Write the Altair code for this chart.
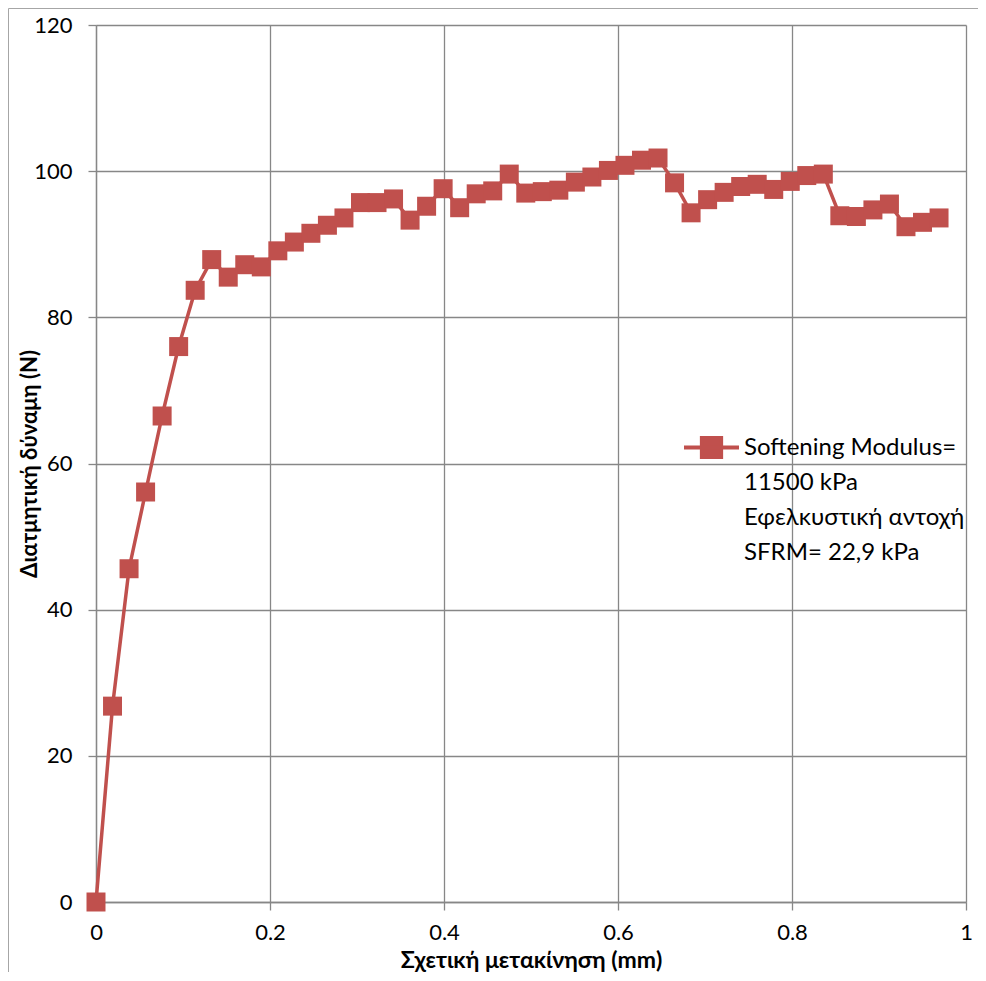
import altair as alt
import pandas as pd

# ---- data ----
x_mm = [0.000, 0.019, 0.038, 0.057, 0.076, 0.095, 0.114, 0.133, 0.152, 0.171,
        0.190, 0.209, 0.228, 0.247, 0.266, 0.285, 0.304, 0.323, 0.342, 0.361,
        0.380, 0.399, 0.418, 0.437, 0.456, 0.475, 0.494, 0.513, 0.532, 0.551,
        0.570, 0.589, 0.608, 0.627, 0.646, 0.665, 0.684, 0.703, 0.722, 0.741,
        0.760, 0.779, 0.798, 0.817, 0.836, 0.855, 0.874, 0.893, 0.912, 0.931,
        0.950, 0.969]
force_n = [0.0, 26.8, 45.6, 56.1, 66.5, 76.0, 83.7, 87.9, 85.5, 87.2,
           86.9, 89.1, 90.3, 91.5, 92.6, 93.6, 95.7, 95.7, 96.2, 93.3,
           95.2, 97.6, 95.0, 96.9, 97.3, 99.6, 97.0, 97.2, 97.4, 98.5,
           99.2, 100.1, 100.8, 101.5, 101.8, 98.4, 94.3, 96.1, 97.1, 97.9,
           98.2, 97.5, 98.6, 99.4, 99.6, 93.9, 93.8, 94.7, 95.5, 92.4,
           93.0, 93.6]
series_label = "Softening Modulus=|11500 kPa|Εφελκυστική αντοχή|SFRM= 22,9 kPa"
x_ticks = [0, 0.2, 0.4, 0.6, 0.8, 1]
y_ticks = [0, 20, 40, 60, 80, 100, 120]
x_title = "Σχετική μετακίνηση (mm)"
y_title = "Διατμητική δύναμη (N)"

df = pd.DataFrame({"x": x_mm, "y": force_n, "series": [series_label] * len(x_mm)})

RED = "#C0504D"
GRID = "#878787"
FONT = "Lato, Noto Sans, sans-serif"
W, H = 870, 877

x_enc = alt.X(
    "x:Q",
    scale=alt.Scale(domain=[0, 1], nice=False, zero=False),
    axis=alt.Axis(values=x_ticks, format="~g", title=x_title,
                  titleX=W / 2, titleY=58, titleBaseline="middle",
                  titleFontSize=23, labelFlush=False, labelPadding=12),
)
y_enc = alt.Y(
    "y:Q",
    scale=alt.Scale(domain=[0, 120], nice=False),
    axis=alt.Axis(values=y_ticks, title=y_title,
                  titleX=-67, titleY=H / 2, titleBaseline="middle",
                  titleAngle=270, titleFontSize=22,
                  labelFlush=False, labelPadding=16),
)

base = alt.Chart(df)

line = base.mark_line(color=RED, strokeWidth=3.5).encode(x=x_enc, y=y_enc)

points = base.mark_point(shape="square", size=361, filled=True, opacity=1).encode(
    x=x_enc,
    y=y_enc,
    color=alt.Color(
        "series:N",
        scale=alt.Scale(range=[RED]),
        legend=alt.Legend(
            title=None,
            orient="none",
            legendX=586,
            legendY=381,
            labelExpr="split(datum.label, '|')",
            labelBaseline="top",
            labelOffset=3,
            labelFontSize=24,
            labelFont=FONT,
            labelColor="black",
            labelLimit=400,
            symbolType="M-1,0.44H1M-0.35,0.095H0.35V0.785H-0.35Z",
            symbolSize=3025,
            symbolStrokeColor=RED,
            symbolFillColor=RED,
            symbolStrokeWidth=4,
            padding=0,
        ),
    ),
)

one = pd.DataFrame({"f": [0]})
frame_left = alt.Chart(one).mark_rule(color="#A6A6A6", strokeWidth=1).encode(
    x=alt.value(-87.5), y=alt.value(-16.5), y2=alt.value(1200),
)
frame_top = alt.Chart(one).mark_rule(color="#A6A6A6", strokeWidth=1).encode(
    x=alt.value(-87.5), x2=alt.value(1200), y=alt.value(-16.5),
)

chart = (
    alt.layer(frame_left, frame_top, line, points)
    .properties(width=W, height=H,
                autosize=alt.AutoSizeParams(type="none"),
                padding={"left": 88, "top": 17, "right": 12, "bottom": 70})
    .configure(style={"guide-label": {"lineHeight": 35}})
    .configure_view(stroke=None)
    .configure_axis(
        gridColor=GRID, gridWidth=1.3, gridOpacity=1,
        domainColor=GRID, domainWidth=1.3,
        tickColor=GRID, tickWidth=1.3, tickSize=8,
        labelFont=FONT, labelFontSize=22, labelColor="black",
        titleFont=FONT, titleFontWeight="bold", titleColor="black",
    )
)

chart.save("out.html", embed_options={"renderer": "svg", "actions": False})
